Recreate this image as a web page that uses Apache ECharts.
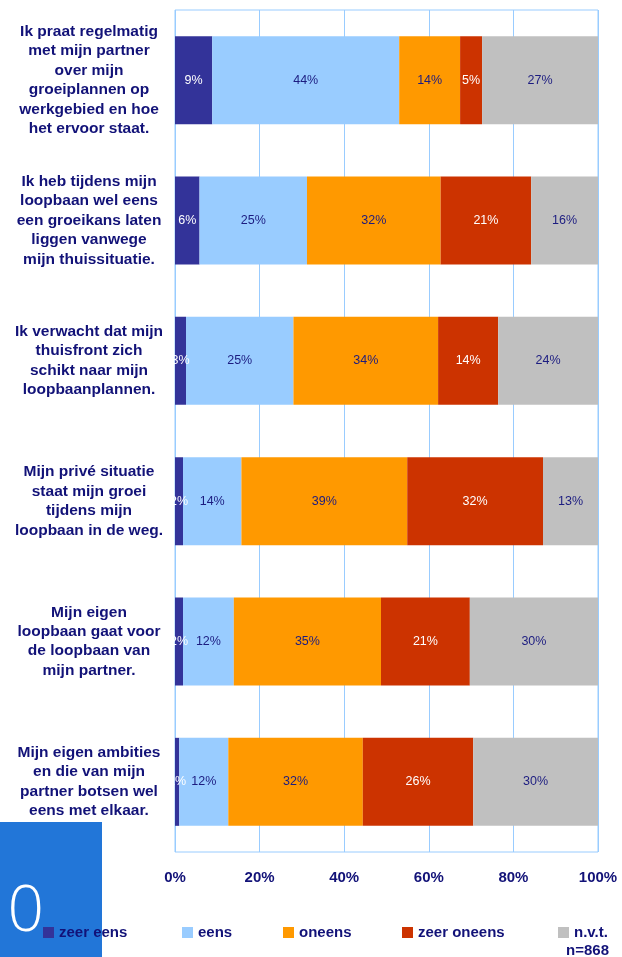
<!DOCTYPE html>
<html>
<head>
<meta charset="utf-8">
<script src="https://cdn.jsdelivr.net/npm/echarts@6/dist/echarts.min.js"></script>
<style>
html,body{margin:0;padding:0;background:#fff;}
#chart{width:622px;height:957px;}
</style>
</head>
<body>
<div id="chart"></div>
<script>
const categories = [
  'Ik praat regelmatig\nmet mijn partner\nover mijn\ngroeiplannen op\nwerkgebied en hoe\nhet ervoor staat.',
  'Ik heb tijdens mijn\nloopbaan wel eens\neen groeikans laten\nliggen vanwege\nmijn thuissituatie.',
  'Ik verwacht dat mijn\nthuisfront zich\nschikt naar mijn\nloopbaanplannen.',
  'Mijn privé situatie\nstaat mijn groei\ntijdens mijn\nloopbaan in de weg.',
  'Mijn eigen\nloopbaan gaat voor\nde loopbaan van\nmijn partner.',
  'Mijn eigen ambities\nen die van mijn\npartner botsen wel\neens met elkaar.'
];
const seriesNames = ['zeer eens', 'eens', 'oneens', 'zeer oneens', 'n.v.t.'];
const zeerEens   = [8.8, 5.8, 2.6, 1.9, 1.9, 1.0];
const eens       = [44.2, 25.4, 25.4, 13.8, 12.0, 11.6];
const oneens     = [14.4, 31.6, 34.2, 39.2, 34.8, 31.8];
const zeerOneens = [5.2, 21.4, 14.2, 32.1, 21.0, 26.1];
const nvt        = [27.4, 15.8, 23.6, 13.0, 30.3, 29.5];
const xTicks = [0, 20, 40, 60, 80, 100];
const sampleNote = 'n=868';
const slideNumber = '10';

const colors = ['#333399', '#99CCFF', '#FF9900', '#CC3300', '#C0C0C0'];
const labelColors = ['#ffffff', '#1c1c80', '#1c1c80', '#ffffff', '#1c1c80'];
const navy = '#121278';
const font = '"Liberation Sans", Arial, sans-serif';
const allValues = [zeerEens, eens, oneens, zeerOneens, nvt];

const chart = echarts.init(document.getElementById('chart'), null, {renderer: 'canvas'});

const legendLefts = [38, 177, 278, 397, 553];

const option = {
  backgroundColor: '#ffffff',
  animation: false,
  grid: {
    left: 175, right: 24, top: 10, bottom: 105,
    show: true, borderColor: '#99CCFF', borderWidth: 1
  },
  xAxis: {
    type: 'value', min: xTicks[0], max: xTicks[xTicks.length - 1], interval: 20,
    axisLine: {show: false},
    axisTick: {show: false},
    splitLine: {show: true, lineStyle: {color: '#99CCFF', width: 1}},
    axisLabel: {
      formatter: '{value}%', color: navy, fontFamily: font, fontWeight: 'bold',
      fontSize: 15, margin: 18
    }
  },
  yAxis: {
    type: 'category', data: categories, inverse: true,
    axisLine: {show: false},
    axisTick: {show: false},
    splitLine: {show: false},
    axisLabel: {
      align: 'center', margin: 86, color: navy, fontFamily: font,
      fontWeight: 'bold', fontSize: 15.5, lineHeight: 19.4
    }
  },
  legend: seriesNames.map((n, i) => ({
    data: [n], left: legendLefts[i], top: 920,
    itemWidth: 11, itemHeight: 11, icon: 'rect',
    selectedMode: false,
    textStyle: {color: navy, fontFamily: font, fontWeight: 'bold', fontSize: 15}
  })),
  graphic: [
    {type: 'rect', left: 0, top: 822, shape: {width: 102, height: 135}, style: {fill: '#2276D8'}, z: -10},
    {type: 'text', x: 44, y: 913, z: -5, style: {text: slideNumber, fill: '#ffffff', font: '300 64px "Open Sans", "Liberation Sans", sans-serif', textAlign: 'right', textVerticalAlign: 'middle'}},
    {type: 'text', x: 609, y: 951, style: {text: sampleNote, fill: navy, font: 'bold 15px "Liberation Sans", Arial, sans-serif', textAlign: 'right', textVerticalAlign: 'middle'}}
  ],
  series: seriesNames.map((n, i) => ({
    name: n, type: 'bar', stack: 'total', barWidth: 88,
    data: allValues[i],
    itemStyle: {color: colors[i]},
    label: {
      show: true, position: 'inside', color: labelColors[i],
      fontFamily: font, fontSize: 12.5,
      formatter: p => Math.round(p.value) + '%'
    }
  }))
};
chart.setOption(option);
</script>
</body>
</html>
